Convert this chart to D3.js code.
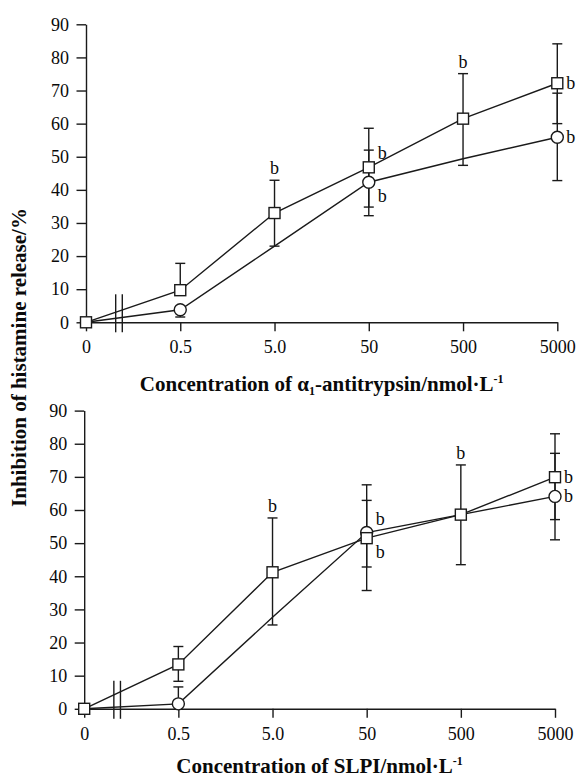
<!DOCTYPE html>
<html>
<head>
<meta charset="utf-8">
<script src="https://cdn.jsdelivr.net/npm/d3@7"></script>
<style>
  body { margin: 0; background: #fff; }
  svg text { font-family: "Liberation Serif", "Times New Roman", serif; fill: #0a0a0a; }
</style>
</head>
<body>
<svg id="chart" width="576" height="780"></svg>
<script>
// concentrations (nmol/L), shown as evenly spaced categories
var concLabels = ['0', '0.5', '5.0', '50', '500', '5000'];
var yTicks = [0, 10, 20, 30, 40, 50, 60, 70, 80, 90];

// upper panel: alpha1-antitrypsin
var aatSquare = [0, 9.7, 33.0, 46.8, 61.5, 72.2];
var aatSquareUp = [0, 8.1, 9.9, 11.8, 13.6, 11.9];
var aatSquareDown = [0, 0, 10.0, 12.0, 14.1, 12.2];
var aatSquareSig = ['', '', 'top', 'upper', 'top', 'right'];
var aatCircle = [0, 3.8, 23.0, 42.3, 49.4, 55.9];
var aatCircleUp = [0, 0, 0, 9.7, 0, 13.3];
var aatCircleDown = [0, 2.2, 0, 10.1, 0, 13.1];
var aatCircleMarks = [false, true, false, true, false, true];
var aatCircleSig = ['', '', '', 'lower', '', 'right'];

// lower panel: SLPI
var slpiSquare = [0, 13.4, 41.2, 51.5, 58.6, 69.9];
var slpiSquareUp = [0, 5.4, 16.4, 16.1, 15.0, 13.1];
var slpiSquareDown = [0, 5.1, 15.9, 15.8, 15.1, 12.8];
var slpiSquareSig = ['', '', 'top', 'lower', 'top', 'right'];
var slpiCircle = [0, 1.5, 27.6, 53.2, 58.6, 64.1];
var slpiCircleUp = [0, 5.1, 0, 9.7, 0, 13.0];
var slpiCircleDown = [0, 0, 0, 10.4, 0, 13.1];
var slpiCircleMarks = [false, true, false, true, false, true];
var slpiCircleSig = ['', '', '', 'upper', '', 'right'];

var ink = '#1a1a1a';
var svg = d3.select('#chart');

function drawPanel(p) {
    var g = svg.append('g');
    var x = d3.scalePoint().domain(concLabels).range(p.xRange);
    var y = d3.scaleLinear().domain([0, 90]).range(p.yRange);
    var step = x.step();

    g.append('g')
        .attr('transform', 'translate(' + p.xRange[0] + ',0)')
        .call(d3.axisLeft(y).tickValues(yTicks).tickSize(9.5).tickSizeOuter(0).tickPadding(7.5));
    g.append('g')
        .attr('transform', 'translate(0,' + y(0) + ')')
        .call(d3.axisBottom(x).tickSize(9).tickSizeOuter(0).tickPadding(9));
    g.selectAll('.domain, .tick line').attr('stroke', ink).attr('stroke-width', 1.4);
    g.selectAll('.tick text').attr('font-size', 18).attr('fill', '#0a0a0a');

    // axis break between 0 and 0.5
    var xb = x(concLabels[0]) + step * 0.35;
    g.selectAll('line.brk')
        .data([-3.3, 3.3])
        .enter()
        .append('line')
        .attr('class', 'brk')
        .attr('x1', function (d) { return xb + d; })
        .attr('x2', function (d) { return xb + d; })
        .attr('y1', y(0) - 28)
        .attr('y2', y(0) + 10)
        .attr('stroke', ink)
        .attr('stroke-width', 1.4);

    var series = [p.circle, p.square];
    var line = d3.line()
        .x(function (d, i) { return x(concLabels[i]); })
        .y(function (d) { return y(d); });
    series.forEach(function (s) {
        g.append('path')
            .attr('d', line(s.values))
            .attr('fill', 'none')
            .attr('stroke', ink)
            .attr('stroke-width', 1.4);
    });

    // error bars
    series.forEach(function (s) {
        s.values.forEach(function (v, i) {
            var cx = x(concLabels[i]);
            [[s.up[i], 1], [s.down[i], -1]].forEach(function (e) {
                if (!e[0]) return;
                var end = y(v + e[0] * e[1]);
                g.append('line')
                    .attr('x1', cx).attr('x2', cx)
                    .attr('y1', y(v)).attr('y2', end)
                    .attr('stroke', ink).attr('stroke-width', 1.4);
                g.append('line')
                    .attr('x1', cx - 5).attr('x2', cx + 5)
                    .attr('y1', end).attr('y2', end)
                    .attr('stroke', ink).attr('stroke-width', 1.4);
            });
        });
    });

    // markers: circles below, squares on top
    p.circle.values.forEach(function (v, i) {
        if (!p.circle.marks[i]) return;
        g.append('circle')
            .attr('cx', x(concLabels[i]))
            .attr('cy', y(v))
            .attr('r', 6)
            .attr('fill', '#fff')
            .attr('stroke', ink)
            .attr('stroke-width', 1.4);
    });
    g.selectAll('rect.sq')
        .data(p.square.values)
        .enter()
        .append('rect')
        .attr('class', 'sq')
        .attr('x', function (d, i) { return x(concLabels[i]) - 5.5; })
        .attr('y', function (d) { return y(d) - 5.5; })
        .attr('width', 11)
        .attr('height', 11)
        .attr('fill', '#fff')
        .attr('stroke', ink)
        .attr('stroke-width', 1.4);

    // significance marks
    series.forEach(function (s) {
        s.sig.forEach(function (k, i) {
            if (!k) return;
            var cx = x(concLabels[i]);
            var cy = y(s.values[i]);
            var t = g.append('text').attr('font-size', 18).text('b');
            if (k === 'top') {
                t.attr('x', cx).attr('y', y(s.values[i] + s.up[i]) - 6).attr('text-anchor', 'middle');
            } else {
                var dy = k === 'upper' ? -8 : (k === 'lower' ? 20 : 6);
                t.attr('x', cx + 9).attr('y', cy + dy);
            }
        });
    });

    // axis title
    var title = g.append('text')
        .attr('x', (p.xRange[0] + p.xRange[1]) / 2)
        .attr('y', p.titleY)
        .attr('text-anchor', 'middle')
        .attr('font-size', 21)
        .attr('font-weight', 'bold');
    p.title.forEach(function (part) {
        var ts = title.append('tspan').text(part[0]);
        if (part[1] === 'sub') ts.attr('font-size', 12).attr('dy', 4);
        if (part[1] === 'after-sub') ts.attr('dy', -4);
        if (part[1] === 'sup') ts.attr('font-size', 12).attr('dy', -8);
    });
}

drawPanel({
    xRange: [86, 557.3],
    yRange: [322.3, 24.3],
    titleY: 391,
    title: [['Concentration of \u03b1'], ['1', 'sub'], ['-antitrypsin/nmol\u00b7L', 'after-sub'], ['-1', 'sup']],
    square: { values: aatSquare, up: aatSquareUp, down: aatSquareDown, sig: aatSquareSig },
    circle: { values: aatCircle, up: aatCircleUp, down: aatCircleDown, marks: aatCircleMarks, sig: aatCircleSig }
});

drawPanel({
    xRange: [84.2, 555],
    yRange: [708.8, 410.6],
    titleY: 773,
    title: [['Concentration of SLPI/nmol\u00b7L'], ['-1', 'sup']],
    square: { values: slpiSquare, up: slpiSquareUp, down: slpiSquareDown, sig: slpiSquareSig },
    circle: { values: slpiCircle, up: slpiCircleUp, down: slpiCircleDown, marks: slpiCircleMarks, sig: slpiCircleSig }
});

svg.append('text')
    .attr('transform', 'translate(19,357.5) rotate(-90)')
    .attr('text-anchor', 'middle')
    .attr('dominant-baseline', 'central')
    .attr('font-size', 21)
    .attr('font-weight', 'bold')
    .text('Inhibition of histamine release/%');
</script>
</body>
</html>
